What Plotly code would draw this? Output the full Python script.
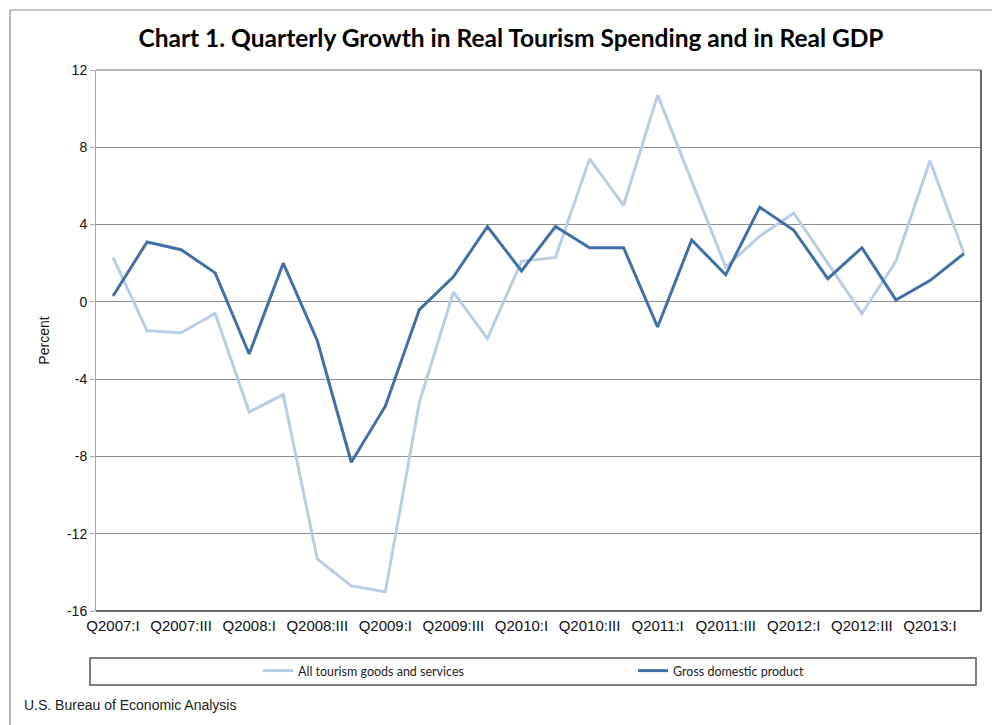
import plotly.graph_objects as go

quarters = [
    "Q2007:I", "Q2007:II", "Q2007:III", "Q2007:IV",
    "Q2008:I", "Q2008:II", "Q2008:III", "Q2008:IV",
    "Q2009:I", "Q2009:II", "Q2009:III", "Q2009:IV",
    "Q2010:I", "Q2010:II", "Q2010:III", "Q2010:IV",
    "Q2011:I", "Q2011:II", "Q2011:III", "Q2011:IV",
    "Q2012:I", "Q2012:II", "Q2012:III", "Q2012:IV",
    "Q2013:I", "Q2013:II",
]
tourism = [2.3, -1.5, -1.6, -0.6, -5.7, -4.8, -13.3, -14.7, -15.0, -5.2,
           0.5, -1.9, 2.1, 2.3, 7.4, 5.0, 10.7, 6.3, 1.8, 3.4,
           4.6, 2.0, -0.6, 2.1, 7.3, 2.5]
gdp = [0.3, 3.1, 2.7, 1.5, -2.7, 2.0, -2.0, -8.3, -5.4, -0.4,
       1.3, 3.9, 1.6, 3.9, 2.8, 2.8, -1.3, 3.2, 1.4, 4.9,
       3.7, 1.2, 2.8, 0.1, 1.1, 2.5]
y_ticks = [12, 8, 4, 0, -4, -8, -12, -16]
y_tick_text = ["12", "8", "4", "0", "-4", "-8", "-12", "-16"]
label_every = 2

x_idx = list(range(len(quarters)))
x_tickvals = x_idx[::label_every]
x_ticktext = quarters[::label_every]
boundaries = [i + 0.5 for i in x_idx[:-1]]

LIGHT = "#b9cde5"
DARK = "#4270a6"

fig = go.Figure()
fig.add_trace(go.Scatter(x=x_idx, y=tourism, mode="lines", name="All tourism goods and services",
                         line=dict(color=LIGHT, width=3), legend="legend"))
fig.add_trace(go.Scatter(x=x_idx, y=gdp, mode="lines", name="Gross domestic product",
                         line=dict(color=DARK, width=3), legend="legend2"))

xr = [-0.5, len(quarters) - 0.5]
yr = [-16, 12]
zero_pos = (0 - yr[0]) / (yr[1] - yr[0])

PW, PH, PL, PB = 885, 541, 96, 611


def px_x(p):
    return (p - PL) / PW


def px_y(p):
    return (PB - p) / PH


legend_font = dict(family="Lato, Open Sans, sans-serif", size=12.5, color="#222")

fig.update_layout(
    width=992, height=725,
    margin=dict(l=96, r=11, t=70, b=114),
    paper_bgcolor="white", plot_bgcolor="white",
    showlegend=True,
    title=dict(text="<b>Chart 1. Quarterly Growth in Real Tourism Spending and in Real GDP</b>",
               x=511 / 992, xanchor="center", y=1 - 38 / 725, yanchor="middle",
               font=dict(family="Lato, Open Sans, sans-serif", size=24.5, color="black")),
    xaxis=dict(range=xr, tickmode="array", tickvals=x_tickvals, ticktext=x_ticktext,
               showgrid=False, zeroline=False, showline=False, ticks="",
               tickfont=dict(family="Liberation Sans, Arial", size=15, color="#111"),
               ticklabelstandoff=4),
    xaxis2=dict(range=xr, overlaying="x", anchor="free", position=zero_pos, side="bottom",
                tickmode="array", tickvals=boundaries, ticks="outside", ticklen=5, tickcolor="#a6a6a6",
                showticklabels=False, showgrid=False, zeroline=False,
                showline=True, linecolor="#a6a6a6", linewidth=1),
    yaxis=dict(range=yr, tickmode="array", tickvals=y_ticks, ticktext=y_tick_text,
               showgrid=True, gridcolor="#8c8c8c", gridwidth=1, zeroline=False,
               showline=True, linecolor="#a6a6a6", linewidth=1,
               ticks="outside", ticklen=5, tickcolor="#a6a6a6",
               tickfont=dict(family="Liberation Sans, Arial", size=14, color="#111"),
               title=dict(text="Percent", font=dict(family="Liberation Sans, Arial", size=14, color="#111"),
                          standoff=14)),
    legend=dict(orientation="h", x=px_x(258), xanchor="left", y=px_y(671), yanchor="middle",
                font=legend_font, bgcolor="rgba(0,0,0,0)", borderwidth=0, itemwidth=30),
    legend2=dict(orientation="h", x=px_x(633), xanchor="left", y=px_y(671), yanchor="middle",
                 font=legend_font, bgcolor="rgba(0,0,0,0)", borderwidth=0, itemwidth=30),
)

shapes = [
    # outer chart border (left and top edges only are visible)
    dict(type="line", xref="paper", yref="paper",
         x0=px_x(10), x1=px_x(10), y0=px_y(725), y1=px_y(10),
         line=dict(color="#8c8c8c", width=1.2)),
    dict(type="line", xref="paper", yref="paper",
         x0=px_x(10), x1=px_x(992), y0=px_y(10), y1=px_y(10),
         line=dict(color="#8c8c8c", width=1.2)),
    # plot frame top / right / bottom
    dict(type="line", xref="paper", yref="paper", x0=0, x1=1, y0=1, y1=1,
         line=dict(color="#6e6e6e", width=1.2)),
    dict(type="line", xref="paper", yref="paper", x0=1, x1=1, y0=0, y1=1,
         line=dict(color="#2a2a2a", width=1.4)),
    dict(type="line", xref="paper", yref="paper", x0=0, x1=1, y0=0, y1=0,
         line=dict(color="#3a3a3a", width=1.4)),
    # legend box
    dict(type="rect", xref="paper", yref="paper",
         x0=px_x(90), x1=px_x(976), y0=px_y(685), y1=px_y(658),
         line=dict(color="#555555", width=1.5)),
]
fig.update_layout(shapes=shapes)

fig.add_annotation(text="U.S. Bureau of Economic Analysis", xref="paper", yref="paper",
                   x=px_x(22), xanchor="left", y=px_y(705), yanchor="middle",
                   showarrow=False, font=dict(family="Liberation Sans, Arial", size=14, color="#222"))

fig.write_html("out.html")
